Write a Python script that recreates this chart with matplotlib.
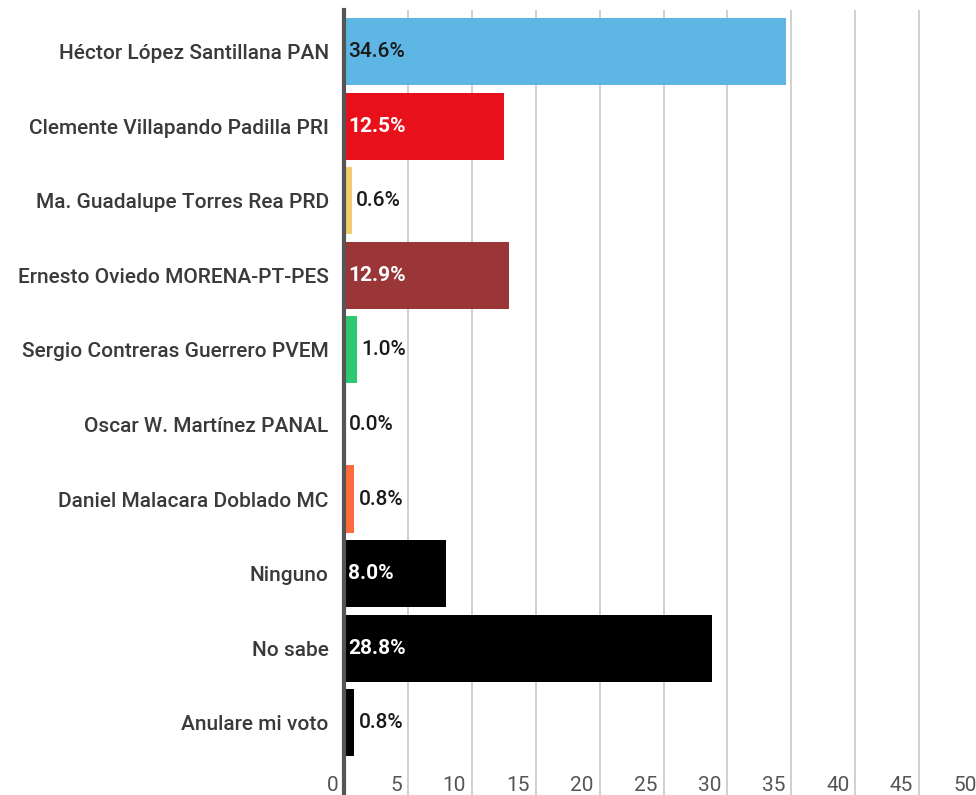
import matplotlib
matplotlib.use("Agg")
import matplotlib.pyplot as plt

plt.rcParams['font.family'] = ['Roboto', 'DejaVu Sans']

# data
candidatos = ["Héctor López Santillana PAN",
              "Clemente Villapando Padilla PRI",
              "Ma. Guadalupe Torres Rea PRD",
              "Ernesto Oviedo MORENA-PT-PES",
              "Sergio Contreras Guerrero PVEM",
              "Oscar W. Martínez PANAL",
              "Daniel Malacara Doblado MC",
              "Ninguno",
              "No sabe",
              "Anulare mi voto"]
porcentajes = [34.6, 12.5, 0.6, 12.9, 1.0, 0.0, 0.8, 8.0, 28.8, 0.8]
colores = ["#5DB6E3", "#E8101A", "#F0CE6E", "#9A3538", "#2EC872",
           "#999999", "#FF6A3D", "#000000", "#000000", "#000000"]
color_etiqueta = ["#1a1a1a", "white", "#1a1a1a", "white", "#1a1a1a",
                  "#1a1a1a", "#1a1a1a", "white", "white", "#1a1a1a"]
ticks = [0, 5, 10, 15, 20, 25, 30, 35, 40, 45, 50]

fig = plt.figure(figsize=(9.76, 7.95), dpi=100)
ax = fig.add_axes([344 / 976, 0.0, (983 - 344) / 976, 1 - 10 / 795])

ypos = list(range(len(candidatos)))
ax.barh(ypos, porcentajes, height=0.9, color=colores, zorder=2)

ax.set_xlim(0, 50)
ax.set_ylim(9.97, -0.56)

for i, (v, c) in enumerate(zip(porcentajes, color_etiqueta)):
    if v >= 5:
        x = 0.35
    else:
        x = v + 0.35
    peso = 'bold' if c == 'white' else 'medium'
    ax.text(x, i, "%.1f%%" % v, va='center', ha='left', fontsize=15,
            fontweight=peso, color=c, zorder=3)

ax.set_yticks(ypos)
ax.set_yticklabels(candidatos, fontsize=15, color='#3a3a3a',
                   fontweight='medium')
ax.tick_params(axis='y', length=0, pad=11)

ax.set_xticks(ticks)
ax.set_xticklabels([])
ax.tick_params(axis='x', length=0)
for t in ticks:
    ax.text(t - 0.45, 9.84, str(t), ha='right', va='center', fontsize=15,
            color='#555555')

ax.grid(axis='x', color='#c8c8c8', linewidth=1.2, zorder=0)
for s in ['top', 'right', 'bottom']:
    ax.spines[s].set_visible(False)
ax.spines['left'].set_color('#555555')
ax.spines['left'].set_linewidth(3)
ax.spines['left'].set_zorder(4)

fig.savefig("out.png", dpi=100)
